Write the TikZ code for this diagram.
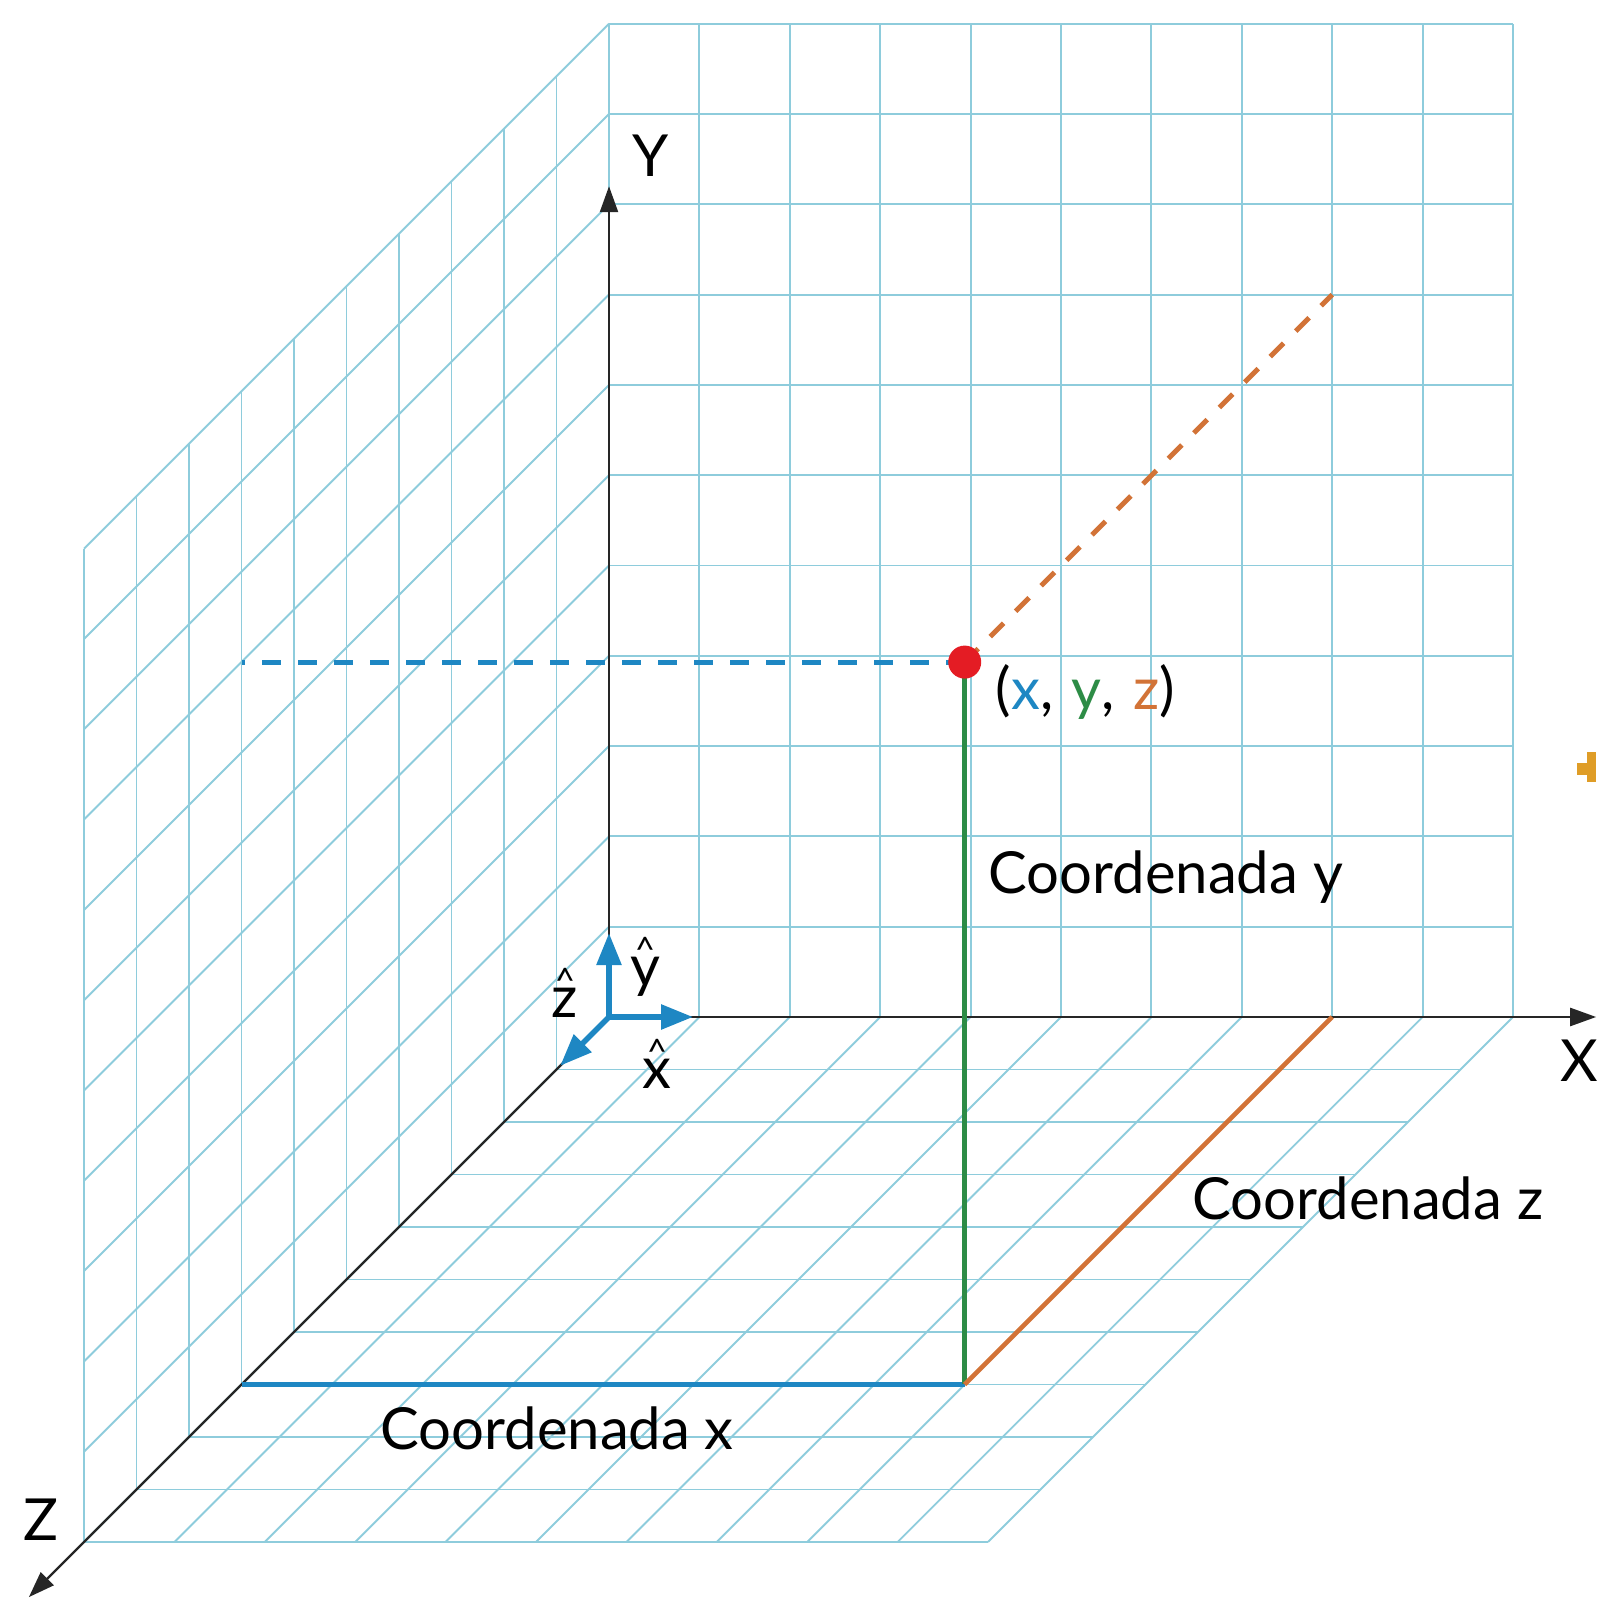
\documentclass[tikz,border=0pt]{standalone}
\usepackage{fontspec}
\setmainfont{Lato}
\usetikzlibrary{arrows.meta}
\definecolor{grille}{RGB}{142,204,220}
\definecolor{bleux}{RGB}{30,135,195}
\definecolor{verty}{RGB}{45,140,70}
\definecolor{orangez}{RGB}{210,115,55}
\definecolor{rougep}{RGB}{228,28,36}
% Lettre surmontee d'un chapeau
\newcommand{\chapeau}[1]{\ooalign{#1\cr\hidewidth\raisebox{6.8pt}{\fontsize{10}{10}\selectfont\textasciicircum}\hidewidth\cr}}
\begin{document}
\begin{tikzpicture}[x={(0.904cm,0cm)}, y={(0cm,0.903cm)}, z={(-0.525cm,-0.525cm)},
	>={Triangle[length=2.6mm,width=1.8mm]},
	font=\fontsize{16.5}{19}\selectfont,
	grid line/.style={grille, line width=0.55pt},
	axe/.style={->, line width=0.7pt, black!85},
	coord line/.style={line width=1.3pt},
	pointille/.style={line width=1.4pt, dash pattern=on 0.19cm off 0.17cm},
	vecteur/.style={-{Triangle[length=3.2mm,width=2.4mm]}, bleux, line width=1.6pt},
	etiquette/.style={inner sep=0pt, anchor=base west}]
	% Dimensions des grilles
	\def\xmax{10}
	\def\ymax{11}
	\def\zmax{10}
	% Cadre
	\useasboundingbox (-6.09cm,-5.83cm) rectangle (9.87cm,10.17cm);
	% Grille du fond (plan XY)
	\foreach \i in {0,...,\xmax}
		\draw [grid line] (\i,0,0) -- (\i,\ymax,0);
	\foreach \j in {0,...,\ymax}
		\draw [grid line] (0,\j,0) -- (\xmax,\j,0);
	% Grille de gauche (plan YZ)
	\foreach \k in {0,...,\zmax}
		\draw [grid line] (0,0,\k) -- (0,\ymax,\k);
	\foreach \j in {0,...,\ymax}
		\draw [grid line] (0,\j,0) -- (0,\j,\zmax);
	% Grille du sol (plan XZ)
	\foreach \i in {0,...,\xmax}
		\draw [grid line] (\i,0,0) -- (\i,0,\zmax);
	\foreach \k in {0,...,\zmax}
		\draw [grid line] (0,0,\k) -- (\xmax,0,\k);
	% Points utiles
	\coordinate (O) at (0,0,0);
	\coordinate (P) at (8,8,7);
	\coordinate (Psol) at (8,0,7);
	\coordinate (Pz) at (0,0,7);
	\coordinate (Px) at (8,0,0);
	\coordinate (Pyz) at (0,8,7);
	\coordinate (Pxy) at (8,8,0);
	\coordinate (Xfin) at (10.92,0,0);
	\coordinate (Yfin) at (0,9.2,0);
	\coordinate (Zfin) at (0,0,11.05);
	% Axes
	\draw [axe] (O) -- (Xfin);
	\draw [axe] (O) -- (Yfin);
	\draw [axe] (O) -- (Zfin);
	\path (Xfin) ++(-0.17cm,-0.44cm) node (nomX) {X};
	\path (Yfin) ++(0.415cm,0.30cm) node (nomY) {Y};
	\path (Zfin) ++(0.12cm,0.77cm) node (nomZ) {Z};
	% Coordonnees du point
	\draw [pointille, bleux] (P) -- (Pyz);
	\draw [pointille, orangez] (P) -- (Pxy);
	\draw [coord line, bleux] (Pz) -- (Psol);
	\draw [coord line, verty] (Psol) -- (P);
	\draw [coord line, orangez] (Psol) -- (Px);
	\node [circle, fill=rougep, minimum size=0.33cm, inner sep=0pt] (pt) at (P) {};
	% Vecteurs unitaires
	\coordinate (ux) at (0.93,0,0);
	\coordinate (uy) at (0,0.93,0);
	\coordinate (uz) at (0,0,0.93);
	\draw [vecteur] (O) -- (ux);
	\draw [vecteur] (O) -- (uy);
	\draw [vecteur] (O) -- (uz);
	\path (O) ++(0.48cm,-0.57cm) node [inner sep=0pt] (chapx) {\chapeau{x}};
	\path (O) ++(0.36cm,0.45cm) node [inner sep=0pt] (chapy) {\chapeau{y}};
	\path (O) ++(-0.44cm,0.14cm) node [inner sep=0pt] (chapz) {\chapeau{z}};
	% Textes
	\path (O) ++(3.86cm,3.07cm) node [etiquette] (triplet)
		{(\textcolor{bleux}{x},\kern1pt\ \textcolor{verty}{y},\kern1pt\ \textcolor{orangez}{z})};
	\path (O) ++(3.79cm,1.23cm) node [etiquette] (coordy) {Coordenada y};
	\path (O) ++(5.83cm,-2.02cm) node [etiquette] (coordz) {Coordenada z};
	\path (O) ++(-2.29cm,-4.32cm) node [etiquette] (coordx) {Coordenada x};
	% Fragment orange au bord
	\fill [orangez!70!yellow] (9.68cm,2.42cm) rectangle (9.87cm,2.54cm);
	\fill [orangez!70!yellow] (9.78cm,2.35cm) rectangle (9.87cm,2.65cm);
\end{tikzpicture}
\end{document}
